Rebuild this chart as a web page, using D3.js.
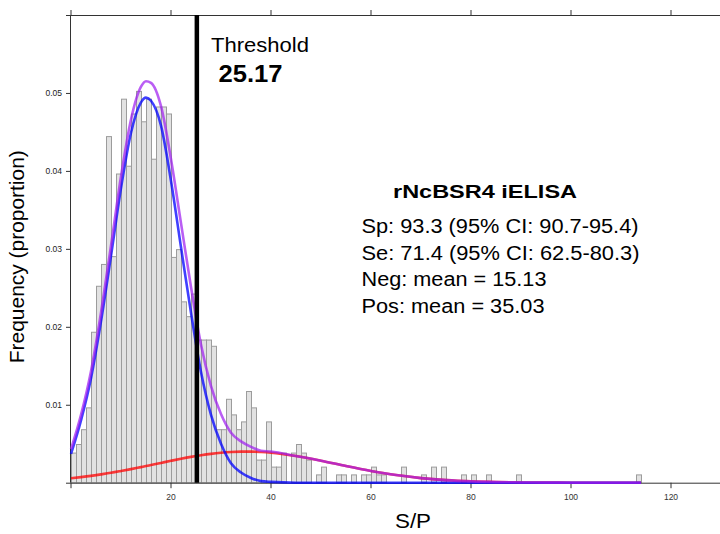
<!DOCTYPE html>
<html><head><meta charset="utf-8">
<script src="https://cdn.jsdelivr.net/npm/d3@7"></script>
<style>
body{margin:0;background:#fff}
svg{display:block;font-family:"Liberation Sans",Arial,sans-serif}
</style>
</head><body>
<svg id="c" width="720" height="534"></svg>
<script>
// histogram: proportion per unit-wide S/P bin, bin i covers [i, i+1)
const binFreq = [
  .0038,.0049,.0068,.0096,.0193,.0252,.0280,.0444,.0290,.0396,
  .0492,.0406,.0473,.0502,.0463,.0492,.0415,.0482,.0482,.0473,
  .0289,.0299,.0232,.0213,.0242,.0183,.0183,.0183,.0175,.0068,
  .0068,.0107,.0087,.0068,.0078,.0117,.0096,.0029,.0029,.0078,
  .0020,.0020,.0038,0,.0038,.0049,.0038,.0029,0,.0010,
  .0020,0,0,.0010,.0010,0,.0010,0,.0010,.0010,
  .0020,.0010,.0010,0,0,0,.0020,0,0,0,
  .0010,0,.0020,0,.0020,0,0,0,.0010,0,
  .0010,0,0,.0010,0,0,0,0,0,.0010,
  0,0,0,0,0,0,0,0,0,0,
  0,0,0,0,0,0,0,0,0,0,
  0,0,0,.0010
];
// fitted density curves
const curveX = [0,2,4,6,8,10,12,14,15,16,18,20,22,24,26,28,30,32,34,36,38,40,45,50,55,60,65,70,75,80,85,90,95,100,105,110,114];
const negFit = [.0037,.0080,.0134,.0207,.0291,.0378,.0449,.0488,.0494,.0490,.0458,.0387,.0302,.0218,.0142,.0087,.0050,.0025,.0013,.0006,.0002,.0001,0,0,0,0,0,0,0,0,0,0,0,0,0,0,0];
const posFit = [.00058,.00072,.00088,.00107,.00127,.00150,.00174,.00200,.00213,.00227,.00254,.00281,.00307,.00331,.00352,.00370,.00384,.00394,.00399,.00399,.00394,.00385,.00342,.00282,.00214,.00151,.00098,.00059,.00033,.00017,.00008,.00003,.00001,0,0,0,0];
const mixFit = [.0043,.0087,.0143,.0218,.0304,.0393,.0466,.0508,.0515,.0513,.0483,.0415,.0333,.0251,.0177,.0124,.0088,.0064,.0053,.0046,.0041,.0040,.00342,.00282,.00214,.00151,.00098,.00059,.00033,.00017,.00008,.00003,.00001,0,0,0,0];
const xTicks = [0,20,40,60,80,100,120];
const xTickLabels = ["","20","40","60","80","100","120"];
const yTicks = [0,0.01,0.02,0.03,0.04,0.05,0.06];
const yTickLabels = ["","0.01","0.02","0.03","0.04","0.05",""];
const threshold = 25.17;
const thresholdLabel = "Threshold";
const thresholdValue = "25.17";
const assayTitle = "rNcBSR4 iELISA";
const statLines = ["Sp: 93.3 (95% CI: 90.7-95.4)","Se: 71.4 (95% CI: 62.5-80.3)","Neg: mean = 15.13","Pos: mean = 35.03"];
const xTitle = "S/P";
const yTitle = "Frequency (proportion)";

const svg = d3.select("#c");
const x = d3.scaleLinear().domain([0, 129.8]).range([71, 720]);
const y = d3.scaleLinear().domain([0, 0.06]).range([482.7, 15]);

// bars
svg.append("g").selectAll("rect")
  .data(binFreq.map((v,i)=>({i,v})).filter(d=>d.v>0))
  .join("rect")
  .attr("x", d=>x(d.i)+0.5)
  .attr("width", d=>x(d.i+1)-x(d.i))
  .attr("y", d=>y(d.v))
  .attr("height", d=>y(0)-y(d.v))
  .attr("fill", "#e2e2e2")
  .attr("stroke", "#9c9c9c")
  .attr("stroke-width", 1);

// axes
const ax = svg.append("g").attr("stroke","#333").attr("stroke-width",1).attr("fill","none");
ax.append("line").attr("x1",x(0)).attr("x2",720).attr("y1",y(0)+0.5).attr("y2",y(0)+0.5);
ax.append("line").attr("x1",x(0)).attr("x2",720).attr("y1",y(0.06)+0.5).attr("y2",y(0.06)+0.5);
ax.append("line").attr("x1",x(0)-0.5).attr("x2",x(0)-0.5).attr("y1",y(0.06)).attr("y2",y(0));
xTicks.forEach(t=>{
  ax.append("line").attr("x1",x(t)).attr("x2",x(t)).attr("y1",y(0)).attr("y2",y(0)+5.5);
  ax.append("line").attr("x1",x(t)).attr("x2",x(t)).attr("y1",y(0.06)).attr("y2",y(0.06)-5);
});
yTicks.forEach(t=>{
  ax.append("line").attr("x1",x(0)-5).attr("x2",x(0)).attr("y1",y(t)+0.5).attr("y2",y(t)+0.5);
});
svg.append("g").selectAll("text").data(xTicks).join("text")
  .attr("x", d=>x(d)).attr("y", y(0)+17).attr("text-anchor","middle")
  .attr("font-size", 8.5).attr("fill","#333").text((d,i)=>xTickLabels[i]);
svg.append("g").selectAll("text").data(yTicks).join("text")
  .attr("x", x(0)-9).attr("y", d=>y(d)+3).attr("text-anchor","end")
  .attr("font-size", 8.5).attr("fill","#222").text((d,i)=>yTickLabels[i]);

// curves
const line = d3.line().x(d=>x(d[0])).y(d=>y(d[1])).curve(d3.curveMonotoneX);
const pts = arr => curveX.map((cx,i)=>[cx, arr[i]]);
svg.append("path").attr("d", line(pts(posFit))).attr("fill","none").attr("stroke","#ff0000").attr("stroke-opacity",0.75).attr("stroke-width",2.6);
svg.append("path").attr("d", line(pts(negFit))).attr("fill","none").attr("stroke","#0000ff").attr("stroke-opacity",0.75).attr("stroke-width",2.6);
svg.append("path").attr("d", line(pts(mixFit))).attr("fill","none").attr("stroke","#a020f0").attr("stroke-opacity",0.72).attr("stroke-width",2.6);

// threshold
svg.append("line").attr("x1",x(threshold)).attr("x2",x(threshold)).attr("y1",y(0.06)).attr("y2",y(0))
  .attr("stroke","#000").attr("stroke-width",4.5);
svg.append("text").attr("x",211).attr("y",52).attr("font-size",20).attr("textLength",98).attr("lengthAdjust","spacingAndGlyphs").text(thresholdLabel);
svg.append("text").attr("x",218.5).attr("y",82).attr("font-size",23).attr("font-weight","bold").attr("textLength",64).attr("lengthAdjust","spacingAndGlyphs").text(thresholdValue);

// stats block
svg.append("text").attr("x",393).attr("y",197.5).attr("font-size",19).attr("font-weight","bold").attr("textLength",184).attr("lengthAdjust","spacingAndGlyphs").text(assayTitle);
const statW = [277, 278, 185, 183];
const statY = [232.5, 259.5, 286, 312.5];
statLines.forEach((s,i)=>{
  svg.append("text").attr("x",361.5).attr("y",statY[i]).attr("font-size",19.5)
    .attr("textLength",statW[i]).attr("lengthAdjust","spacingAndGlyphs").text(s);
});

// axis titles
svg.append("text").attr("x",395).attr("y",528).attr("font-size",21).attr("textLength",36).attr("lengthAdjust","spacingAndGlyphs").text(xTitle);
svg.append("text").attr("transform","translate(24,256.7) rotate(-90)").attr("text-anchor","middle")
  .attr("font-size",21).attr("textLength",213).attr("lengthAdjust","spacingAndGlyphs").text(yTitle);
</script>
</body></html>
